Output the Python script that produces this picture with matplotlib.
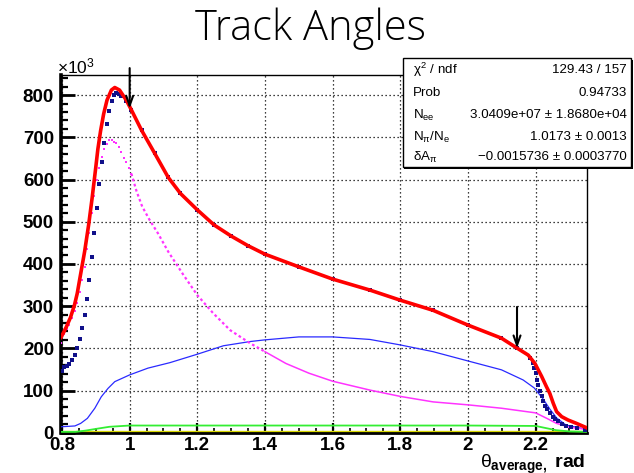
import numpy as np
import matplotlib
matplotlib.use('Agg')
import matplotlib.pyplot as plt
from matplotlib.patches import Rectangle
from matplotlib.ticker import MultipleLocator

plt.rcParams['font.family'] = ['Liberation Sans', 'DejaVu Sans']
plt.rcParams['mathtext.fontset'] = 'custom'
plt.rcParams['mathtext.rm'] = 'Liberation Sans'
plt.rcParams['mathtext.it'] = 'Liberation Sans'
plt.rcParams['mathtext.bf'] = 'Liberation Sans:bold'

# ---- data (counts in units of 10^3) ----
fit_x = [0.797, 0.805, 0.813, 0.825, 0.837, 0.845, 0.852, 0.867, 0.879, 0.889, 0.900,
         0.906, 0.914, 0.923, 0.933, 0.946, 0.956, 0.970, 0.990, 1.005, 1.035, 1.074,
         1.114, 1.15, 1.2, 1.25, 1.3, 1.35, 1.4, 1.5, 1.6, 1.71, 1.8, 1.897, 2.0,
         2.099, 2.146, 2.178, 2.198, 2.218, 2.232, 2.242, 2.252, 2.262, 2.277, 2.296,
         2.321, 2.35]
fit_y = [226, 238, 251, 273, 303, 330, 362, 430, 494, 556, 630,
         672, 715, 755, 788, 812, 818, 812, 788, 765, 717, 662,
         605, 567, 528, 492, 466, 443, 423, 393, 364, 338, 314, 290, 255,
         224, 200, 184, 164, 133, 109, 93, 70, 50, 38, 30,
         22, 12]

data_x = [0.800, 0.807, 0.815, 0.822, 0.830, 0.837, 0.845, 0.852, 0.859, 0.867, 0.874,
          0.881, 0.888, 0.896, 0.903, 0.910, 0.918, 0.925, 0.932, 0.940, 0.947, 0.955,
          0.961, 0.968, 0.975, 0.990, 1.005, 1.035, 1.074, 1.114, 1.15, 1.2, 1.25, 1.3,
          1.35, 1.4, 1.5, 1.6, 1.71, 1.8, 1.897, 2.0, 2.099, 2.146, 2.183, 2.191, 2.196,
          2.201, 2.205, 2.208, 2.213, 2.218, 2.222, 2.227, 2.235, 2.242, 2.250, 2.257,
          2.267, 2.277, 2.291, 2.306, 2.321, 2.345]
data_y = [147, 155, 158, 163, 172, 183, 200, 221, 247, 278, 318,
          363, 417, 474, 533, 589, 641, 686, 731, 762, 787, 800,
          804, 802, 797, 786, 765, 717, 662, 605, 567, 528, 492, 466,
          443, 423, 393, 364, 338, 314, 290, 255, 224, 200, 176, 164, 153,
          141, 125, 113, 99, 87, 74, 63, 55, 46, 38, 32,
          27, 21, 16, 13, 10, 7]

pi_x = [0.797, 0.838, 0.855, 0.875, 0.897, 0.916, 0.936, 0.956, 1.0, 1.054, 1.119, 1.2,
        1.277, 1.356, 1.4, 1.5, 1.6, 1.71, 1.8, 1.897, 2.0, 2.099, 2.163, 2.196,
        2.222, 2.242, 2.262, 2.29, 2.35]
pi_y = [14, 16, 22, 34, 58, 85, 105, 121, 137, 153, 166, 186,
        206, 216, 220, 227, 227, 221, 208, 192, 170, 149, 125, 106,
        80, 56, 35, 18, 8]

ee_pts_x = [0.797, 0.800, 0.807, 0.815, 0.822, 0.830, 0.837, 0.845, 0.852, 0.859, 0.867,
            0.874, 0.881, 0.888, 0.896, 0.903, 0.910, 0.918, 0.925, 0.932, 0.940, 0.947,
            0.955, 0.961, 0.968, 0.975, 0.983, 0.990, 0.998, 1.005]
ee_pts_y = [212, 226, 234, 245, 256, 272, 288, 308, 333, 361, 393,
            436, 474, 520, 560, 599, 627, 653, 672, 685, 694, 694,
            690, 686, 676, 666, 652, 641, 628, 614]
ee_x = [1.005, 1.020, 1.037, 1.059, 1.084, 1.114, 1.158, 1.2, 1.247, 1.297, 1.356, 1.4,
        1.462, 1.53, 1.6, 1.71, 1.8, 1.897, 2.0, 2.099, 2.2, 2.233, 2.262, 2.30, 2.35]
ee_y = [614, 573, 536, 504, 472, 429, 375, 326, 283, 243, 212, 192,
        164, 141, 122, 101, 86, 73, 66, 58, 47, 34, 22, 13, 8]

bg_x = [0.797, 0.84, 0.87, 0.90, 0.94, 1.0, 1.5, 2.0, 2.2, 2.23, 2.26, 2.3, 2.35]
bg_y = [2, 2, 5, 9, 14, 17, 17, 17, 16, 11, 6, 3, 2]

flat_x = [0.797, 2.35]
flat_y = [1, 1]

arrow_x = [1.0, 2.145]
arrow_top = [864, 298]
arrow_tip = [768, 200]

xticks = [0.8, 1.0, 1.2, 1.4, 1.6, 1.8, 2.0, 2.2]
xtick_labels = ['0.8', '1', '1.2', '1.4', '1.6', '1.8', '2', '2.2']
yticks = [0, 100, 200, 300, 400, 500, 600, 700, 800]

stat_names = [r'$\chi^{2}$ / ndf', 'Prob', r'N$_{ee}$', r'N$_{\pi}$/N$_{e}$', r'$\delta$A$_{\pi}$']
stat_values = ['129.43 / 157', '0.94733', '3.0409e+07 ± 1.8680e+04',
               '1.0173 ± 0.0013', '\u22120.0015736 ± 0.0003770']

# ---- figure ----
fig = plt.figure(figsize=(6.34, 4.73), dpi=100)
ax = fig.add_axes([0.0962, 0.0852, 0.8292, 0.7562])

ax.plot(flat_x, flat_y, color='#d8d800', lw=2.4, zorder=2)
ax.plot(bg_x, bg_y, color='#33ee33', lw=1.3, zorder=3)
ax.plot(pi_x, pi_y, color='#2a2aff', lw=0.9, zorder=3)
ax.plot(ee_pts_x, ee_pts_y, ls='none', marker='s', ms=2.0, mew=0, color='#ff33ff', zorder=3)
ax.plot(ee_x[:12], ee_y[:12], color='#ff33ff', lw=1.6, ls=(0, (1.2, 1.2)), zorder=3)
ax.plot(ee_x[11:], ee_y[11:], color='#ff33ff', lw=1.1, zorder=3)
ax.plot(data_x, data_y, ls='none', marker='s', ms=2.3, mew=0, color='#10108a', zorder=4)
ax.plot(fit_x, fit_y, color='#ff0000', lw=2.6, zorder=5)

for xa, yt, yb in zip(arrow_x, arrow_top, arrow_tip):
    ax.annotate('', xy=(xa, yb), xytext=(xa, yt), annotation_clip=False,
                arrowprops=dict(arrowstyle='->,head_length=0.7,head_width=0.25',
                                color='black', lw=1.5, shrinkA=0, shrinkB=0), zorder=6)

ax.set_xlim(0.797, 2.351)
ax.set_ylim(0, 847.6)
ax.set_xticks(xticks)
ax.set_xticklabels(xtick_labels)
ax.set_yticks(yticks)
ax.xaxis.set_minor_locator(MultipleLocator(0.05))
ax.yaxis.set_minor_locator(MultipleLocator(20))
ax.grid(True, which='major', color='black', lw=0.9, ls=(0, (1, 2.2)))
ax.set_axisbelow(True)

ax.tick_params(axis='y', which='major', direction='in', length=10, width=2, pad=5, labelsize=13.5)
ax.tick_params(axis='y', which='minor', direction='in', length=5, width=1.6)
ax.tick_params(axis='x', which='major', direction='in', length=7, width=1.6, pad=3, labelsize=13.5)
ax.tick_params(axis='x', which='minor', direction='in', length=3.5, width=1.2)
for lbl in ax.get_xticklabels() + ax.get_yticklabels():
    lbl.set_fontweight('bold')

ax.spines['left'].set_linewidth(2.6)
ax.spines['bottom'].set_linewidth(2.0)
ax.spines['top'].set_linewidth(1.0)
ax.spines['right'].set_linewidth(1.0)

fig.text(0.09, 0.86, r'$\times$10$^{3}$', fontsize=12.5, ha='left', va='center')
fig.text(0.924, 0.011, r'$\theta_{\mathbf{average,}}$ $\mathbf{rad}$', fontsize=14,
         ha='right', va='baseline')

fig.text(0.49, 0.94, 'Track Angles', fontsize=30, family=['Open Sans', 'DejaVu Sans'],
         fontweight=300, color='black', ha='center', va='center')

# ---- stats box ----
bx0, by0, bx1, by1 = 0.635, 0.6476, 0.996, 0.8767
fig.patches.append(Rectangle((bx0 + 0.003, by0 - 0.004), bx1 - bx0, by1 - by0,
                             transform=fig.transFigure, facecolor='black', edgecolor='none', zorder=9))
fig.patches.append(Rectangle((bx0, by0), bx1 - bx0, by1 - by0, transform=fig.transFigure,
                             facecolor='white', edgecolor='black', lw=1.0, zorder=10))
row_y = [70, 93.5, 115.5, 137, 157]
for ry, name, val in zip(row_y, stat_names, stat_values):
    yy = 1 - ry / 473
    fig.text(0.652, yy, name, fontsize=9.6, ha='left', va='center', zorder=11)
    fig.text(0.9885, yy, val, fontsize=9.6, ha='right', va='center', zorder=11)

fig.savefig('out.png', dpi=100)
